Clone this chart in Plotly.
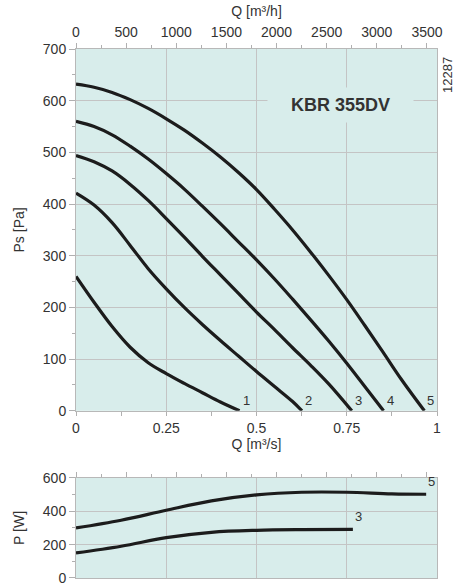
import plotly.graph_objects as go

# ---- data ----
q1 = [0, 0.05, 0.1, 0.15, 0.2, 0.25, 0.3, 0.35, 0.4, 0.453]
ps1 = [260, 210, 163, 123, 93, 72, 53, 35, 17, 0]
q2 = [0, 0.05, 0.1, 0.15, 0.2, 0.25, 0.3, 0.35, 0.4, 0.45, 0.5, 0.55, 0.6, 0.626]
ps2 = [421, 398, 364, 320, 275, 236, 200, 167, 136, 106, 76, 47, 18, 0]
q3 = [0, 0.05, 0.1, 0.15, 0.2, 0.25, 0.3, 0.35, 0.4, 0.45, 0.5, 0.55, 0.6, 0.65, 0.7, 0.764]
ps3 = [494, 482, 464, 438, 407, 372, 336, 299, 263, 227, 191, 157, 122, 88, 52, 0]
q4 = [0, 0.05, 0.1, 0.15, 0.2, 0.25, 0.3, 0.35, 0.4, 0.45, 0.5, 0.55, 0.6, 0.65, 0.7, 0.75, 0.8, 0.852]
ps4 = [560, 550, 534, 512, 487, 459, 429, 396, 362, 327, 292, 255, 216, 176, 135, 92, 47, 0]
q5 = [0, 0.05, 0.1, 0.15, 0.2, 0.25, 0.3, 0.35, 0.4, 0.45, 0.5, 0.55, 0.6, 0.65, 0.7, 0.75, 0.8,
      0.85, 0.9, 0.965]
ps5 = [632, 626, 616, 602, 585, 565, 543, 518, 491, 461, 428, 390, 350, 307, 262, 215, 165,
       114, 62, 0]

qp3 = [0, 0.125, 0.25, 0.375, 0.5, 0.625, 0.767]
p3 = [150, 190, 242, 274, 286, 290, 291]
qp5 = [0, 0.125, 0.25, 0.375, 0.5, 0.625, 0.75, 0.875, 0.97]
p5 = [300, 346, 406, 462, 498, 514, 514, 504, 502]

curve_names = ["1", "2", "3", "4", "5"]
ps_curves = [(q1, ps1), (q2, ps2), (q3, ps3), (q4, ps4), (q5, ps5)]
p_curves = [("3", qp3, p3), ("5", qp5, p5)]

BG = "#d8edeb"
GRID = "#c4c4c4"
LINE = "#1c1c1c"
TXT = "#333333"
FONT = "Liberation Sans, Arial, sans-serif"

fig = go.Figure()
for name, (q, ps) in zip(curve_names, ps_curves):
    fig.add_trace(go.Scatter(x=q, y=ps, mode="lines", xaxis="x", yaxis="y",
                             line=dict(color=LINE, width=3.2, shape="spline", smoothing=1.0),
                             showlegend=False, hoverinfo="skip"))
    fig.add_annotation(x=q[-1], y=ps[-1], xref="x", yref="y", text=name, showarrow=False,
                       xanchor="left", yanchor="bottom", xshift=1, yshift=1,
                       font=dict(size=13, color=TXT, family=FONT))

for name, q, p in p_curves:
    fig.add_trace(go.Scatter(x=q, y=p, mode="lines", xaxis="x3", yaxis="y2",
                             line=dict(color=LINE, width=3.2, shape="spline", smoothing=1.0),
                             showlegend=False, hoverinfo="skip"))
    fig.add_annotation(x=q[-1], y=p[-1], xref="x3", yref="y2", text=name, showarrow=False,
                       xanchor="left", yanchor="bottom", xshift=0, yshift=3,
                       font=dict(size=13, color=TXT, family=FONT))

# dummy traces so overlay axes exist
fig.add_trace(go.Scatter(x=[0, 3600], y=[0, 0], xaxis="x2", yaxis="y", mode="markers",
                         marker=dict(opacity=0), showlegend=False, hoverinfo="skip"))
fig.add_trace(go.Scatter(x=[0, 3600], y=[0, 0], xaxis="x4", yaxis="y2", mode="markers",
                         marker=dict(opacity=0), showlegend=False, hoverinfo="skip"))

fig.add_annotation(x=0.732, y=592, xref="x", yref="y", text="<b>KBR 355DV</b>", showarrow=False,
                   bgcolor=BG, width=143, height=32, font=dict(size=18, color=TXT, family=FONT))

axfont = dict(size=14, color=TXT, family=FONT)
common_x = dict(range=[0, 1], showline=True, linecolor="#b8b8b8", linewidth=1, mirror=True,
                showgrid=True, gridcolor=GRID, gridwidth=1, zeroline=False, tickfont=axfont,
                automargin=False)

W, H = 459, 587
L, R, T, B = 76, 22.3, 49.3, 9.3
pw, ph = W - L - R, H - T - B
main_dom = [(577.7 - 410.7) / ph, 1]
low_dom = [0, (577.7 - 477.7) / ph]

fig.add_annotation(x=(447 - L) / pw, y=(H - B - 75) / ph, xref="paper", yref="paper", text="12287",
                   xanchor="center", yanchor="middle",
                   showarrow=False, textangle=-90, font=dict(size=13, color=TXT, family=FONT))

fig.update_layout(
    width=W, height=H, autosize=False,
    margin=dict(l=L, r=R, t=T, b=B, pad=0),
    paper_bgcolor="white", plot_bgcolor=BG,
    font=dict(family=FONT, color=TXT),
    xaxis=dict(**common_x, domain=[0, 1], anchor="y", tickvals=[0, 0.25, 0.5, 0.75, 1],
               ticktext=["0", "0.25", "0.5", "0.75", "1"],
               ticks="outside", ticklen=4, tickcolor="#b0b0b0",
               minor=dict(tickvals=[0.125, 0.375, 0.625, 0.875], ticks="outside", ticklen=4,
                          tickcolor="#b0b0b0", showgrid=False),
               title=dict(text="Q [m³/s]", font=axfont, standoff=4)),
    xaxis2=dict(range=[0, 3600], overlaying="x", side="top", anchor="y", showgrid=False,
                zeroline=False, showline=False, dtick=500, ticks="outside", ticklen=5,
                tickcolor="#b0b0b0", tickfont=axfont, automargin=False,
                minor=dict(dtick=250, ticks="outside", ticklen=3, tickcolor="#b0b0b0"),
                title=dict(text="Q [m³/h]", font=axfont, standoff=4)),
    yaxis=dict(domain=main_dom, range=[0, 700], dtick=100, showgrid=True, gridcolor=GRID,
               showline=True, linecolor="#b8b8b8", mirror=True, zeroline=False,
               ticks="outside", ticklen=6, tickcolor="#b0b0b0", tickfont=axfont, automargin=False,
               minor=dict(dtick=50, ticks="outside", ticklen=3, tickcolor="#b0b0b0", showgrid=False),
               title=dict(text="Ps [Pa]", font=axfont, standoff=14), anchor="x"),
    xaxis3=dict(**common_x, domain=[0, 1], anchor="y2", dtick=0.25, showticklabels=False, ticks=""),
    xaxis4=dict(range=[0, 3600], overlaying="x3", side="top", anchor="y2", showgrid=False,
                zeroline=False, showline=False, dtick=500, ticks="outside", ticklen=5,
                tickcolor="#b0b0b0", showticklabels=False, automargin=False,
                minor=dict(dtick=250, ticks="outside", ticklen=3, tickcolor="#b0b0b0")),
    yaxis2=dict(domain=low_dom, range=[0, 600], dtick=200, showgrid=True, gridcolor=GRID,
                showline=True, linecolor="#b8b8b8", mirror=True, zeroline=False,
                ticks="outside", ticklen=6, tickcolor="#b0b0b0", tickfont=axfont, automargin=False,
                minor=dict(dtick=100, ticks="outside", ticklen=3, tickcolor="#b0b0b0", showgrid=False),
                title=dict(text="P [W]", font=axfont, standoff=14), anchor="x3"),
)

fig.write_html("out.html", config={"displayModeBar": False},
               post_script="document.body.style.margin='0';document.body.style.padding='0';")
